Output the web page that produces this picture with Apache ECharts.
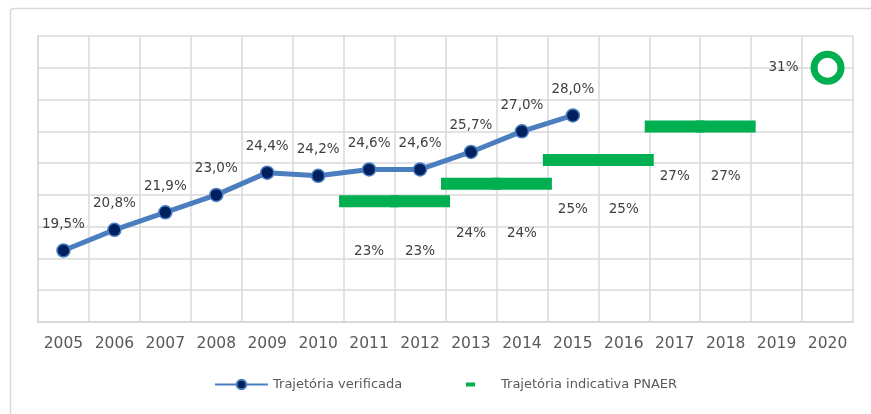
<!DOCTYPE html>
<html style="height: 100%">
<head>
    <meta charset="utf-8">
</head>
<body style="height: 100%; margin: 0; background: #fff">
<div id="container" style="width: 871px; height: 414px"></div>
<script type="text/javascript" src="https://cdn.jsdelivr.net/npm/echarts@6/dist/echarts.min.js"></script>
<script type="text/javascript">
// anos
var years = ['2005', '2006', '2007', '2008', '2009', '2010', '2011', '2012',
    '2013', '2014', '2015', '2016', '2017', '2018', '2019', '2020'];
// trajetória verificada (%)
var verificada = [19.5, 20.8, 21.9, 23.0, 24.4, 24.2, 24.6, 24.6, 25.7, 27.0, 28.0];
// trajetória indicativa PNAER (%)
var pnaer = [null, null, null, null, null, null, 22.6, 22.6, 23.7, 23.7, 25.2, 25.2, 27.3, 27.3, null];
var meta2020 = 31;

var dom = document.getElementById('container');
var myChart = echarts.init(dom, null, {renderer: 'canvas'});

var gridColor = '#d9d9d9';
var textColor = '#404040';
var font = '"DejaVu Sans", Verdana, sans-serif';

var pnaerData = pnaer.map(function (v) { return v; });
// meta 2020: anel verde
pnaerData.push({
    value: meta2020,
    symbol: 'circle',
    symbolSize: 27,
    itemStyle: {color: '#fff', borderColor: '#00B050', borderWidth: 7},
    label: {position: 'left', offset: [0, 0], distance: 12}
});

var option = {
    backgroundColor: '#fff',
    animation: false,
    textStyle: {fontFamily: font},
    graphic: [{
        type: 'rect',
        left: 8,
        top: 6,
        shape: {width: 900, height: 440, r: 3},
        style: {fill: 'none', stroke: gridColor, lineWidth: 1.5},
        silent: true
    }],
    grid: {left: 38, right: 18, top: 36, bottom: 92},
    legend: [{
        left: 214,
        top: 378,
        padding: 0,
        itemWidth: 53,
        itemHeight: 12,
        data: ['Trajetória verificada'],
        textStyle: {color: '#595959', fontSize: 13, fontFamily: font}
    }, {
        left: 466,
        top: 378,
        padding: 0,
        itemWidth: 9,
        itemHeight: 4,
        icon: 'rect',
        data: ['Trajetória indicativa PNAER'],
        textStyle: {color: '#595959', fontSize: 13, fontFamily: font, padding: [0, 0, 0, 21]}
    }],
    xAxis: {
        type: 'category',
        data: years,
        boundaryGap: true,
        axisLine: {lineStyle: {color: gridColor, width: 2}},
        axisTick: {show: false},
        axisLabel: {color: '#595959', fontSize: 15.5, fontFamily: font, margin: 14, interval: 0},
        splitLine: {show: true, showMinLine: true, showMaxLine: true, interval: 0, lineStyle: {color: gridColor, width: 1.5}}
    },
    yAxis: {
        type: 'value',
        min: 15,
        max: 33,
        interval: 2,
        axisLine: {show: true, lineStyle: {color: gridColor, width: 1.5}},
        axisTick: {show: false},
        axisLabel: {show: false},
        splitLine: {show: true, lineStyle: {color: gridColor, width: 1.5}}
    },
    series: [{
        name: 'Trajetória indicativa PNAER',
        type: 'scatter',
        data: pnaerData,
        symbol: 'rect',
        symbolSize: [60, 12],
        itemStyle: {color: '#00B050', opacity: 1},
        label: {
            show: true,
            position: 'inside',
            offset: [0, 50],
            color: textColor,
            fontSize: 13.5,
            fontFamily: font,
            formatter: function (p) { return Math.round(p.value) + '%'; }
        },
        z: 2
    }, {
        name: 'Trajetória verificada',
        type: 'line',
        data: verificada,
        symbol: 'circle',
        symbolSize: 13,
        lineStyle: {color: '#4A7EBF', width: 5},
        itemStyle: {color: '#002060', borderColor: '#4A7EBF', borderWidth: 1.5},
        label: {
            show: true,
            position: 'top',
            distance: 12,
            color: textColor,
            fontSize: 13.5,
            fontFamily: font,
            formatter: function (p) { return p.value.toFixed(1).replace('.', ',') + '%'; }
        },
        z: 3
    }]
};

myChart.setOption(option);
</script>
</body>
</html>
